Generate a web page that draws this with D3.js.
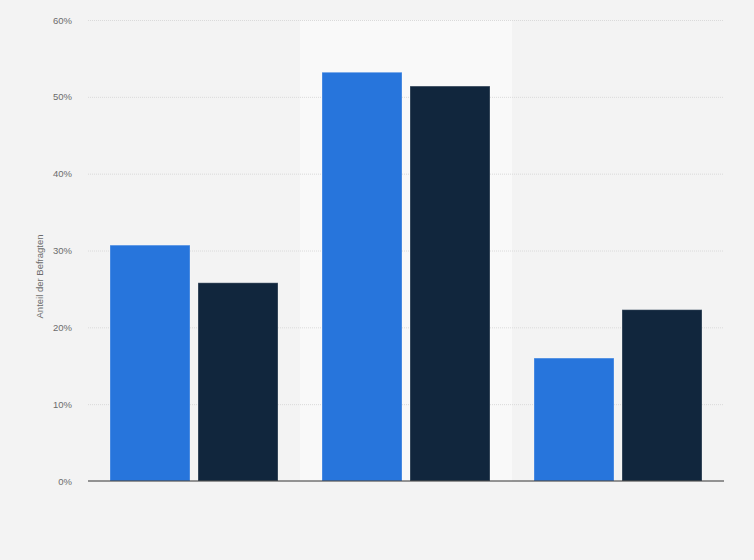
<!DOCTYPE html>
<html>
<head>
<meta charset="utf-8">
<script src="https://cdn.jsdelivr.net/npm/d3@7"></script>
<style>
  html, body { margin: 0; padding: 0; background: #f3f3f3; }
  svg { display: block; font-family: "Liberation Sans", Arial, sans-serif; }
</style>
</head>
<body>
<svg id="chart" width="754" height="560"></svg>
<script>
// categories have no visible labels in the picture
const categories = ["A", "B", "C"];
const seriesNames = ["Serie 1", "Serie 2"];
const series1 = [30.7, 53.2, 16.0];
const series2 = [25.8, 51.4, 22.3];
const yTicks = [0, 10, 20, 30, 40, 50, 60];
const colors = ["#2775dc", "#11263d"];
const highlighted = "B";

const svg = d3.select("#chart");
const margin = { top: 20, right: 30, bottom: 79, left: 88 };
const width = 754 - margin.left - margin.right;
const height = 560 - margin.top - margin.bottom;

const g = svg.append("g").attr("transform", `translate(${margin.left},${margin.top})`);

const x0 = d3.scaleBand().domain(categories).range([0, width]).paddingInner(0).paddingOuter(0);
const x1 = d3.scaleBand().domain(seriesNames).range([22, x0.bandwidth() - 22]).paddingInner(0.091);
const y = d3.scaleLinear().domain([0, 60]).range([height, 0]);

// highlighted band
g.append("rect")
  .attr("x", x0(highlighted))
  .attr("y", 0)
  .attr("width", x0.bandwidth())
  .attr("height", height)
  .attr("fill", "#f9f9f9");

// gridlines
g.append("g")
  .selectAll("line")
  .data(yTicks.filter((d) => d > 0))
  .enter()
  .append("line")
  .attr("x1", 0)
  .attr("x2", width)
  .attr("y1", (d) => y(d) + 0.5)
  .attr("y2", (d) => y(d) + 0.5)
  .attr("stroke", "#dadada")
  .attr("stroke-width", 1)
  .attr("stroke-dasharray", "1,1");

// y axis labels
const yAxis = d3.axisLeft(y).tickValues(yTicks).tickFormat((d) => d + "%").tickSize(0).tickPadding(16);
g.append("g")
  .call(yAxis)
  .call((a) => a.select(".domain").remove())
  .selectAll("text")
  .attr("fill", "#6b6b6b")
  .style("font-size", "9.5px")
  .style("font-family", '"Liberation Sans", Arial, sans-serif');

// bars
const rows = categories.map((c, i) => ({ cat: c, values: [series1[i], series2[i]] }));
g.selectAll(".grp")
  .data(rows)
  .enter()
  .append("g")
  .attr("class", "grp")
  .attr("transform", (d) => `translate(${x0(d.cat)},0)`)
  .selectAll("rect")
  .data((d) => d.values.map((v, j) => ({ key: seriesNames[j], v, j })))
  .enter()
  .append("rect")
  .attr("x", (d) => x1(d.key))
  .attr("y", (d) => y(d.v))
  .attr("width", x1.bandwidth())
  .attr("height", (d) => height - y(d.v))
  .attr("fill", (d) => colors[d.j])
  .attr("stroke", "rgba(255,255,255,0.3)")
  .attr("stroke-width", 1);

// baseline
g.append("line")
  .attr("x1", 0)
  .attr("x2", width)
  .attr("y1", height)
  .attr("y2", height)
  .attr("stroke", "#333")
  .attr("stroke-width", 1.2);

// y axis title
svg.append("text")
  .attr("transform", `translate(43,${margin.top + height / 2 + 26}) rotate(-90)`)
  .attr("text-anchor", "middle")
  .attr("fill", "#6b6b6b")
  .style("font-size", "9.5px")
  .text("Anteil der Befragten");
</script>
</body>
</html>
